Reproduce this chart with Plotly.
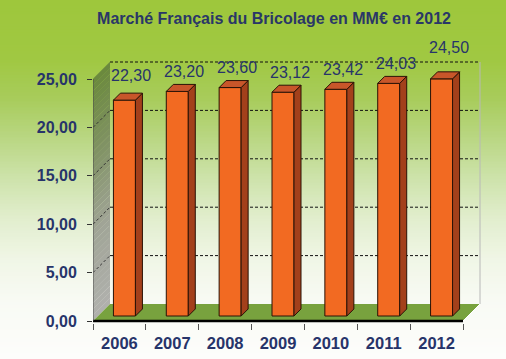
import plotly.graph_objects as go

# ---------------- data ----------------
YEARS = ["2006", "2007", "2008", "2009", "2010", "2011", "2012"]
VALUES = [22.30, 23.20, 23.60, 23.12, 23.42, 24.03, 24.50]
Y_TICKS = [0, 5, 10, 15, 20, 25]
TITLE = "Marché Français du Bricolage en MM€ en 2012"

# ---------------- layout geometry (pixels) ----------------
W, H = 506, 359
ML, MR, MT, MB = 93, 24, 60, 36
PX_X = 370 / 7          # pixels per category
PX_Y = 242 / 25         # pixels per value unit
ZERO_PX = 321           # pixel row of y = 0 on the front plane
WALL_DEPTH = 17
BAR_POS = 5
BAR_DEPTH = 7
BAR_W = 22
LABEL_GAP = 13
LABEL_NUDGE_PX = [5, 0, 0, 0, 0, 0, 11]

FONT = "Liberation Sans, Arial, sans-serif"
NAVY = "#27346a"

n = len(YEARS)
x_lo = -0.5
x_hi = x_lo + (W - ML - MR) / PX_X
y_lo = -((H - MB) - ZERO_PX) / PX_Y
y_hi = (ZERO_PX - MT) / PX_Y

DX, DY = WALL_DEPTH / PX_X, WALL_DEPTH / PX_Y
bdx, bdy = BAR_POS / PX_X, BAR_POS / PX_Y
ddx, ddy = BAR_DEPTH / PX_X, BAR_DEPTH / PX_Y
bw = BAR_W / PX_X
x_end = n - 0.5
y_top = max(Y_TICKS)


def lerp_color(stops, t):
    for (t0, c0), (t1, c1) in zip(stops[:-1], stops[1:]):
        if t0 <= t <= t1:
            u = (t - t0) / (t1 - t0) if t1 > t0 else 0
            return "rgb(%d,%d,%d)" % tuple(round(a + (b - a) * u) for a, b in zip(c0, c1))
    return "rgb(%d,%d,%d)" % stops[-1][1]


fig = go.Figure()
shapes = []

# ---------------- background gradient (paper shapes) ----------------
GRAD = [(0, (158, 199, 60)), (60, (160, 200, 66)), (100, (168, 204, 92)),
        (140, (186, 215, 132)), (180, (206, 227, 172)), (220, (226, 238, 206)),
        (260, (240, 246, 230)), (300, (248, 250, 244)), (359, (253, 253, 251))]
pw, ph = W - ML - MR, H - MT - MB
step = 3
for r in range(0, H, step):
    shapes.append(dict(
        type="rect", xref="paper", yref="paper", layer="below",
        x0=-ML / pw - 0.01, x1=1 + MR / pw + 0.01,
        y0=(H - MB - (r + step + 0.5)) / ph, y1=(H - MB - r + 0.5) / ph,
        fillcolor=lerp_color(GRAD, r + step / 2), line=dict(width=0)))

# ---------------- left wall gradient strips (data shapes) ----------------
WALL = [(0, (178, 178, 176)), (10, (160, 164, 150)), (18, (128, 146, 100)), (26.8, (104, 136, 56))]
nstrip = 40
for s in range(nstrip):
    a = y_top * s / nstrip
    b = y_top * (s + 1) / nstrip + 0.02
    path = "M %f,%f L %f,%f L %f,%f L %f,%f Z" % (
        x_lo, a, x_lo, b, x_lo + DX, b + DY, x_lo + DX, a + DY)
    shapes.append(dict(type="path", xref="x", yref="y", layer="below", path=path,
                       fillcolor=lerp_color(WALL, (a + b) / 2 + DY / 2), line=dict(width=0)))

# ---------------- 3D frame on x/y ----------------
# floor
fig.add_trace(go.Scatter(
    x=[x_lo, x_lo + DX, x_end + DX, x_end, x_lo], y=[0, DY, DY, 0, 0],
    fill="toself", fillcolor="#78a23e", line=dict(width=0), mode="lines",
    hoverinfo="skip", showlegend=False))
# wall diagonals
wx, wy = [], []
for k in Y_TICKS[1:-1]:
    wx += [x_lo, x_lo + DX, None]
    wy += [k, k + DY, None]
fig.add_trace(go.Scatter(x=wx, y=wy, mode="lines",
                         line=dict(color="#333333", width=1, dash="3px,2px"),
                         hoverinfo="skip", showlegend=False))
# back wall gridlines
gx, gy = [], []
for k in Y_TICKS[1:]:
    gx += [x_lo + DX, x_end + DX, None]
    gy += [k + DY, k + DY, None]
fig.add_trace(go.Scatter(x=gx, y=gy, mode="lines",
                         line=dict(color="#111111", width=1, dash="3px,2px"),
                         hoverinfo="skip", showlegend=False))
# back wall right edge
fig.add_trace(go.Scatter(x=[x_end + DX, x_end + DX], y=[DY, y_top + DY], mode="lines",
                         line=dict(color="#b8b8b8", width=1),
                         hoverinfo="skip", showlegend=False))
# floor right edge
fig.add_trace(go.Scatter(x=[x_end, x_end + DX], y=[0, DY], mode="lines",
                         line=dict(color="#ffffff", width=1),
                         hoverinfo="skip", showlegend=False))
# front floor edge
fig.add_trace(go.Scatter(x=[x_lo, x_end], y=[0, 0], mode="lines",
                         line=dict(color="#000000", width=2.5),
                         hoverinfo="skip", showlegend=False))
# y axis line
fig.add_trace(go.Scatter(x=[x_lo, x_lo], y=[0, y_top], mode="lines",
                         line=dict(color="#4a4a4a", width=1),
                         hoverinfo="skip", showlegend=False))

# ---------------- bars on x2/y2 (drawn above frame) ----------------
xs = list(range(n))
fig.add_trace(go.Bar(
    x=xs, y=VALUES, base=bdy, offset=bdx - bw / 2, width=bw,
    marker=dict(color="#f26a22", line=dict(color="#2a1206", width=1)),
    xaxis="x2", yaxis="y2", showlegend=False, hoverinfo="skip"))

sx, sy, tx, ty = [], [], [], []
for i, v in enumerate(VALUES):
    xl = i + bdx - bw / 2
    xr = i + bdx + bw / 2
    bot, top = bdy, bdy + v
    sx += [xr, xr, xr + ddx, xr + ddx, xr, None]
    sy += [bot, top, top + ddy, bot + ddy, bot, None]
    tx += [xl, xr, xr + ddx, xl + ddx, xl, None]
    ty += [top, top, top + ddy, top + ddy, top, None]
fig.add_trace(go.Scatter(x=sx, y=sy, fill="toself", fillcolor="#a3401b", mode="lines",
                         line=dict(color="#2a1206", width=1), xaxis="x2", yaxis="y2",
                         hoverinfo="skip", showlegend=False))
fig.add_trace(go.Scatter(x=tx, y=ty, fill="toself", fillcolor="#c8562a", mode="lines",
                         line=dict(color="#2a1206", width=1), xaxis="x2", yaxis="y2",
                         hoverinfo="skip", showlegend=False))

annotations = []
for i, v in enumerate(VALUES):
    annotations.append(dict(
        x=i + (BAR_POS + BAR_DEPTH) / PX_X, y=bdy + v + ddy, xref="x2", yref="y2",
        text=f"{v:.2f}".replace(".", ","), showarrow=False,
        xanchor="center", yanchor="middle", yshift=LABEL_GAP + LABEL_NUDGE_PX[i],
        font=dict(family=FONT, size=16, color=NAVY)))

minor_ticks = [i - 0.5 for i in range(n + 1)]

fig.update_layout(
    width=W, height=H,
    margin=dict(l=ML, r=MR, t=MT, b=MB, pad=0, autoexpand=False),
    paper_bgcolor="#ffffff", plot_bgcolor="rgba(0,0,0,0)",
    separators=",.",
    shapes=shapes,
    annotations=annotations,
    bargap=0,
    title=dict(text=TITLE, x=274 / W, xref="container", xanchor="center",
               y=1 - 18 / H, yref="container", yanchor="middle",
               font=dict(family=FONT, size=16, color="#2a3767", weight="bold")),
    xaxis=dict(range=[x_lo, x_hi], tickvals=xs, ticktext=YEARS, ticks="",
               showgrid=False, zeroline=False, showline=False,
               ticklabelstandoff=8,
               tickfont=dict(family=FONT, size=16.5, color=NAVY, weight="bold"),
               minor=dict(tickvals=minor_ticks, ticks="outside", ticklen=6,
                          tickcolor="#555555", tickwidth=1, showgrid=False)),
    yaxis=dict(range=[y_lo, y_hi], tickvals=Y_TICKS, tickformat=".2f",
               ticks="outside", ticklen=5, tickcolor="#333333", tickwidth=1,
               showgrid=False, zeroline=False, showline=False,
               ticklabelstandoff=7,
               tickfont=dict(family=FONT, size=16, color=NAVY, weight="bold")),
    xaxis2=dict(range=[x_lo, x_hi], overlaying="x", visible=False),
    yaxis2=dict(range=[y_lo, y_hi], overlaying="y", visible=False),
)

fig.write_html("out.html",
               config={"displayModeBar": False, "staticPlot": True},
               post_script="document.body.style.margin='0';document.body.style.overflow='hidden';")
